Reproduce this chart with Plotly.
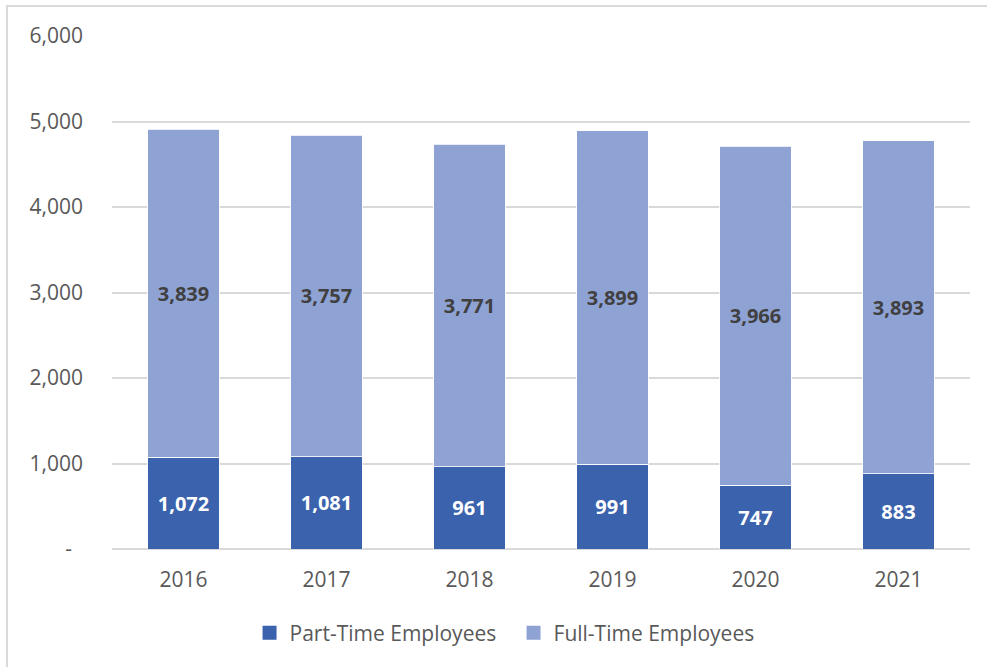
import plotly.graph_objects as go

years = ["2016", "2017", "2018", "2019", "2020", "2021"]
part_time = [1072, 1081, 961, 991, 747, 883]
full_time = [3839, 3757, 3771, 3899, 3966, 3893]

y_ticks = [0, 1000, 2000, 3000, 4000, 5000, 6000]
y_tick_text = ["-\u00a0\u00a0", "1,000", "2,000", "3,000", "4,000", "5,000", "6,000"]

FONT = "Open Sans"
DARK = "#3A62AD"
LIGHT = "#8FA2D4"
GRID = "#D9D9D9"
TXT = "#595959"

fig = go.Figure()
fig.add_trace(go.Bar(
    x=years, y=part_time, name="Part-Time Employees", showlegend=False,
    marker=dict(color=DARK, line=dict(color="white", width=0.8)),
    text=[f"{v:,}" for v in part_time], textposition="inside",
    insidetextanchor="middle",
    textfont=dict(family=FONT, size=20, color="white", weight="bold"),
))
fig.add_trace(go.Bar(
    x=years, y=full_time, name="Full-Time Employees", showlegend=False,
    marker=dict(color=LIGHT, line=dict(color="white", width=0.8)),
    text=[f"{v:,}" for v in full_time], textposition="inside",
    insidetextanchor="middle",
    textfont=dict(family=FONT, size=20, color="#404040", weight="bold"),
))

# legend entries with square swatches
for name, col in [("Part-Time Employees", DARK), ("Full-Time Employees", LIGHT)]:
    fig.add_trace(go.Scatter(
        x=[None], y=[None], mode="markers", name=name,
        marker=dict(symbol="square", size=14, color=col),
    ))

# outer chart frame
fig.add_shape(type="rect", xref="paper", yref="paper",
              x0=-0.1224, x1=1.05, y0=-0.30, y1=1.0585,
              line=dict(color=GRID, width=2), fillcolor="rgba(0,0,0,0)",
              layer="below")

fig.update_layout(
    width=987, height=667,
    margin=dict(l=112, r=17, t=36, b=118),
    barmode="stack", bargap=0.5,
    plot_bgcolor="white", paper_bgcolor="white",
    font=dict(family=FONT, size=21, color=TXT),
    uniformtext=dict(minsize=10, mode="show"),
    xaxis=dict(showgrid=False, showline=False, ticks="",
               ticklabelstandoff=16,
               tickfont=dict(size=21, color=TXT)),
    yaxis=dict(range=[0, 6000], tickvals=y_ticks, ticktext=y_tick_text,
               showgrid=True, gridcolor=GRID, gridwidth=1.5,
               zeroline=True, zerolinecolor=GRID, zerolinewidth=1.5,
               ticks="", ticklabelstandoff=28,
               tickfont=dict(size=21, color=TXT)),
    legend=dict(orientation="h", x=0.468, xanchor="center", y=-0.164,
                yanchor="middle", font=dict(size=21, color=TXT),
                traceorder="normal", itemwidth=30,
                entrywidth=219, entrywidthmode="pixels"),
    showlegend=True,
)

fig.write_html("out.html")
